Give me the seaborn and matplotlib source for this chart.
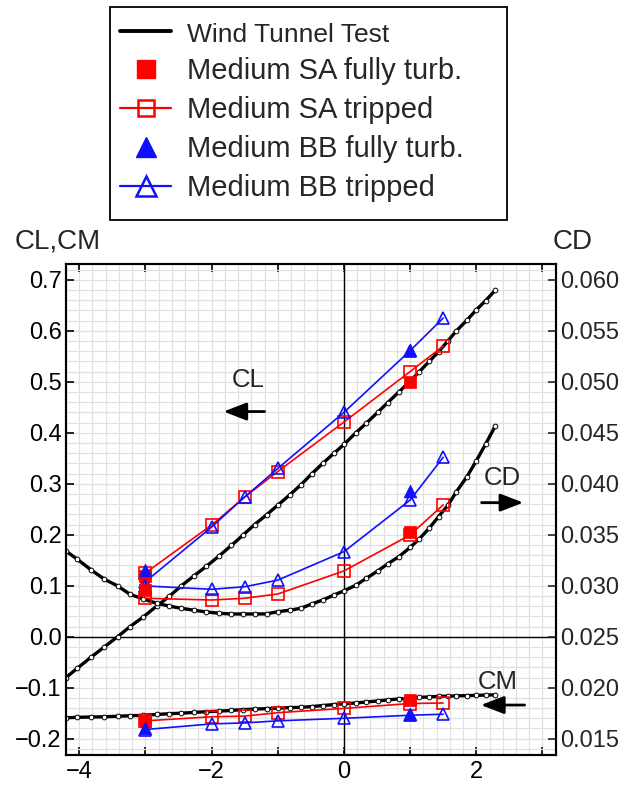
import numpy as np
import pandas as pd
import matplotlib
matplotlib.use("Agg")
import matplotlib.pyplot as plt
from matplotlib.lines import Line2D
from matplotlib.patches import Rectangle
from matplotlib.ticker import MultipleLocator, FuncFormatter
import seaborn as sns

# ---------------- data ----------------
wt_alpha = [-4.2, -4.03, -3.82, -3.62, -3.42, -3.23, -3.03, -2.83, -2.64, -2.46,
            -2.27, -2.08, -1.89, -1.70, -1.52, -1.35, -1.17, -1.0, -0.82, -0.65,
            -0.49, -0.32, -0.15, 0.0, 0.18, 0.34, 0.51, 0.66, 0.83, 1.0,
            1.14, 1.29, 1.43, 1.57, 1.70, 1.86, 2.0, 2.14, 2.29]
wt_cl = [-0.080, -0.062, -0.040, -0.020, 0.000, 0.020, 0.039, 0.060, 0.079, 0.0995,
         0.119, 0.138, 0.158, 0.179, 0.200, 0.220, 0.239, 0.258, 0.278, 0.298,
         0.319, 0.340, 0.360, 0.377, 0.400, 0.419, 0.440, 0.459, 0.480, 0.501,
         0.520, 0.540, 0.559, 0.580, 0.600, 0.621, 0.641, 0.659, 0.680]
wt_cd = [0.0334, 0.0326, 0.03155, 0.03064, 0.02998, 0.02915, 0.0287, 0.02828, 0.0280, 0.02779,
         0.0276, 0.02743, 0.0273, 0.02723, 0.02723, 0.02723, 0.02724, 0.02745, 0.0276, 0.02779,
         0.0282, 0.0286, 0.02909, 0.0295, 0.03005, 0.03073, 0.03145, 0.03214, 0.03285, 0.03375,
         0.0346, 0.03565, 0.03678, 0.03788, 0.03923, 0.0407, 0.04225, 0.04388, 0.0457]
wt_cm = [-0.159, -0.158, -0.1575, -0.157, -0.156, -0.155, -0.154, -0.1525, -0.151, -0.150,
         -0.1485, -0.147, -0.146, -0.1445, -0.143, -0.142, -0.141, -0.140, -0.139, -0.1385,
         -0.137, -0.135, -0.133, -0.1315, -0.130, -0.128, -0.126, -0.124, -0.122, -0.121,
         -0.119, -0.118, -0.117, -0.1165, -0.116, -0.1155, -0.115, -0.1145, -0.114]

cfd_alpha = [-3, -2, -1.5, -1, 0, 1, 1.5]
sa_trip_cl = [0.125, 0.219, 0.274, 0.324, 0.421, 0.520, 0.570]
sa_trip_cd = [0.02877, 0.0286, 0.02877, 0.02919, 0.03145, 0.03498, 0.03793]
sa_trip_cm = [-0.165, -0.157, -0.1557, -0.149, -0.1406, -0.131, -0.130]
bb_trip_cl = [0.108, 0.215, 0.274, 0.330, 0.440, 0.561, 0.625]
bb_trip_cd = [0.02998, 0.02965, 0.0299, 0.03055, 0.03334, 0.0384, 0.0426]
bb_trip_cm = [-0.182, -0.171, -0.169, -0.165, -0.160, -0.154, -0.152]

full_alpha = [-3, 1]
sa_full_cl = [0.119, 0.5005]
sa_full_cd = [0.0296, 0.0353]
sa_full_cm = [-0.166, -0.124]
bb_full_cl = [0.131, 0.562]
bb_full_cd = [0.0298, 0.03933]
bb_full_cm = [-0.180, -0.152]

legend_labels = ["Wind Tunnel Test", "Medium SA fully turb.", "Medium SA tripped",
                 "Medium BB fully turb.", "Medium BB tripped"]

# ---------------- style ----------------
sns.set_style("white")
plt.rcParams["font.family"] = ["Liberation Sans", "DejaVu Sans"]
plt.rcParams["axes.unicode_minus"] = True

RED = "#ff0000"
BLUE = "#1010ff"

fig = plt.figure(figsize=(6.32, 7.85), dpi=100)
ax = fig.add_axes([0.1044, 0.0382, 0.7749, 0.6255])
ax2 = ax.twinx()

ylo, yhi = -0.232, 0.731
ax.set_xlim(-4.2, 3.2)
ax.set_ylim(ylo, yhi)
ax2.set_ylim(0.025 + 0.05 * ylo, 0.025 + 0.05 * yhi)

# grid
ax.xaxis.set_major_locator(MultipleLocator(1))
ax.xaxis.set_minor_locator(MultipleLocator(0.2))
ax.yaxis.set_major_locator(MultipleLocator(0.1))
ax.yaxis.set_minor_locator(MultipleLocator(0.02))
ax.grid(which="both", color="#e0e0e0", lw=0.9)
ax.set_axisbelow(True)
ax.axhline(0, color="black", lw=1.0, zorder=1.5)
ax.axvline(0, color="black", lw=1.0, zorder=1.5)

wt_kw = dict(color="black", lw=2.4, marker="o", markersize=3.4,
             markerfacecolor="white", markeredgecolor="black", markeredgewidth=0.7,
             sort=False, estimator=None)
trip_sa_kw = dict(color=RED, lw=1.2, marker="s", markersize=8.5, markerfacecolor="none",
                  markeredgecolor=RED, markeredgewidth=1.2, sort=False, estimator=None)
trip_bb_kw = dict(color=BLUE, lw=1.2, marker="^", markersize=9, markerfacecolor="none",
                  markeredgecolor=BLUE, markeredgewidth=1.2, sort=False, estimator=None)

# CL and CM on left axis
for y in (wt_cl, wt_cm):
    sns.lineplot(x=wt_alpha, y=y, ax=ax, **wt_kw)
for y in (sa_trip_cl, sa_trip_cm):
    sns.lineplot(x=cfd_alpha, y=y, ax=ax, **trip_sa_kw)
for y in (bb_trip_cl, bb_trip_cm):
    sns.lineplot(x=cfd_alpha, y=y, ax=ax, **trip_bb_kw)
for y in (sa_full_cl, sa_full_cm):
    sns.scatterplot(x=full_alpha, y=y, ax=ax, marker="s", s=85, color=RED,
                    edgecolor=RED, linewidth=0.5, zorder=4)
for y in (bb_full_cl, bb_full_cm):
    sns.scatterplot(x=full_alpha, y=y, ax=ax, marker="^", s=85, color=BLUE,
                    edgecolor=BLUE, linewidth=0.5, zorder=5)

# CD on right axis
sns.lineplot(x=wt_alpha, y=wt_cd, ax=ax2, **wt_kw)
sns.lineplot(x=cfd_alpha, y=sa_trip_cd, ax=ax2, **trip_sa_kw)
sns.lineplot(x=cfd_alpha, y=bb_trip_cd, ax=ax2, **trip_bb_kw)
sns.scatterplot(x=full_alpha, y=sa_full_cd, ax=ax2, marker="s", s=85, color=RED,
                edgecolor=RED, linewidth=0.5, zorder=4)
sns.scatterplot(x=full_alpha, y=bb_full_cd, ax=ax2, marker="^", s=85, color=BLUE,
                edgecolor=BLUE, linewidth=0.5, zorder=3)

# ticks
def xfmt(v, pos):
    iv = int(round(v))
    if iv % 2 != 0:
        return ""
    return f"{iv}".replace("-", "\u2212")

ax.xaxis.set_major_formatter(FuncFormatter(xfmt))
ax.yaxis.set_major_formatter(FuncFormatter(lambda v, p: f"{v:.1f}".replace("-", "\u2212") if abs(v) > 1e-9 else "0.0"))
ax2.yaxis.set_major_locator(MultipleLocator(0.005))
ax2.yaxis.set_major_formatter(FuncFormatter(lambda v, p: f"{v:.3f}"))

ax.tick_params(which="major", direction="in", length=6, width=1.2, top=True, bottom=True,
               left=True, right=False, labelsize=17, pad=3, colors="black")
ax.tick_params(axis="x", which="major", pad=4)
ax.tick_params(which="minor", length=0)
ax2.tick_params(which="major", direction="in", length=6, width=1.2, right=True,
                labelsize=17, pad=3)
ax2.tick_params(which="minor", length=0)
ax.set_xlabel("")
ax.set_ylabel("")
ax2.set_ylabel("")
for a in (ax, ax2):
    for s in a.spines.values():
        s.set_color("black")
        s.set_linewidth(1.5)
ax2.grid(False)

# axis titles
fig.text(58 / 632, 1 - 242 / 785, "CL,CM", fontsize=20, ha="center", va="center")
fig.text(573 / 632, 1 - 242 / 785, "CD", fontsize=20, ha="center", va="center")

# annotations
arrow = dict(arrowstyle="-|>,head_length=0.7,head_width=0.27", color="black", lw=2.0,
             mutation_scale=20, shrinkA=0, shrinkB=0)
ax.text(-1.45, 0.504, "CL", fontsize=18.5, ha="center", va="center")
ax.annotate("", xy=(-1.82, 0.4416), xytext=(-1.20, 0.4416), arrowprops=arrow)
ax.text(2.39, 0.311, "CD", fontsize=18.5, ha="center", va="center")
ax.annotate("", xy=(2.71, 0.263), xytext=(2.08, 0.263), arrowprops=arrow)
ax.text(2.32, -0.089, "CM", fontsize=18.5, ha="center", va="center")
ax.annotate("", xy=(2.07, -0.134), xytext=(2.73, -0.134), arrowprops=arrow)

# legend
handles = [
    Line2D([], [], color="black", lw=2.8),
    Line2D([], [], ls="none", marker="s", markersize=13, color=RED),
    Line2D([], [], color=RED, lw=1.6, marker="s", markersize=12, markerfacecolor="none",
           markeredgecolor=RED, markeredgewidth=1.8),
    Line2D([], [], ls="none", marker="^", markersize=14, color=BLUE),
    Line2D([], [], color=BLUE, lw=1.6, marker="^", markersize=14, markerfacecolor="none",
           markeredgecolor=BLUE, markeredgewidth=1.8),
]
leg = fig.legend(handles, legend_labels, loc="upper left",
                 bbox_to_anchor=(110 / 632, 1 - 11 / 785), borderaxespad=0,
                 fontsize=21, frameon=False,
                 handlelength=1.75, handletextpad=0.55, labelspacing=0.37,
                 borderpad=0.35)
leg.get_texts()[0].set_fontsize(19)
fig.patches.append(Rectangle((110 / 632, 1 - 220 / 785), 397 / 632, 213 / 785,
                             transform=fig.transFigure, fill=False, ec="black", lw=1.3))

fig.savefig("out.png", dpi=100)
